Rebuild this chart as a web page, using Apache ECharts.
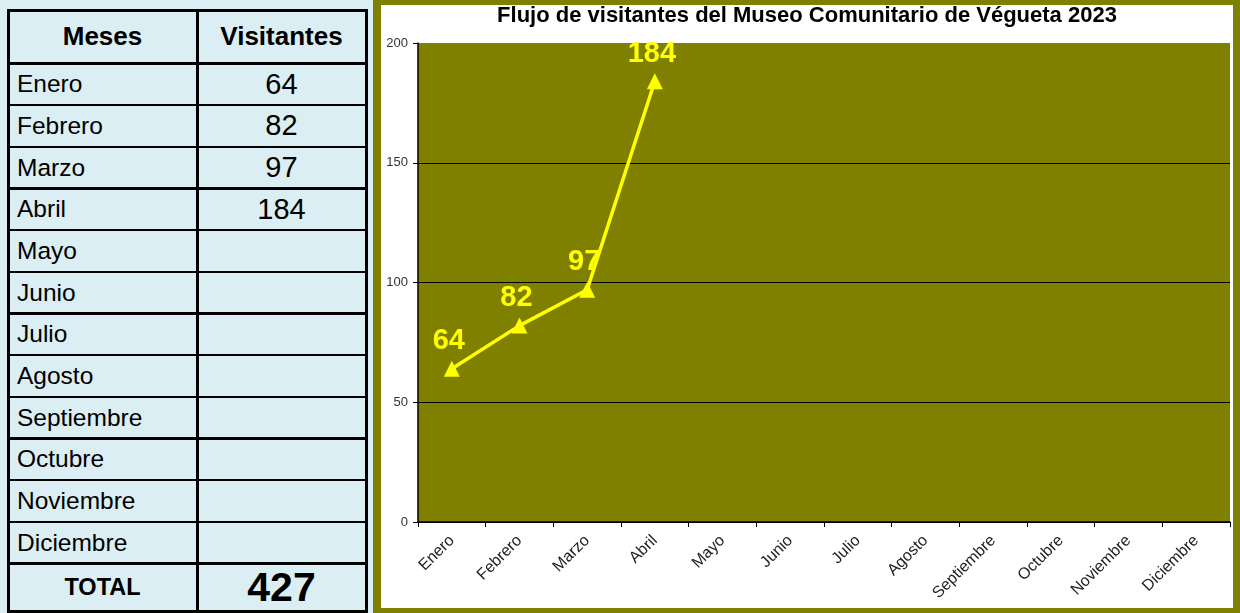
<!DOCTYPE html>
<html>
<head>
<meta charset="utf-8">
<title>Flujo de visitantes</title>
<script src="https://cdn.jsdelivr.net/npm/echarts@6/dist/echarts.min.js"></script>
<style>
  html, body { margin: 0; padding: 0; }
  body {
    width: 1240px; height: 613px; position: relative; overflow: hidden;
    background: #dbeef3;
    font-family: 'Liberation Sans', Arial, sans-serif;
  }
  #tabla { position: absolute; left: 0; top: 0; width: 373px; height: 613px; }
  .celda {
    position: absolute; display: flex; align-items: center;
    color: #000; box-sizing: border-box; white-space: nowrap;
  }
  .linea { position: absolute; background: #000; }
  #marco {
    position: absolute; left: 373px; top: 0; width: 867px; height: 613px;
    box-sizing: border-box; background: #fff;
    border-style: solid; border-color: #808000;
    border-width: 5px 7px 5px 8px;
  }
  #chart-container { width: 852px; height: 603px; }
</style>
</head>
<body>
<div id="tabla"></div>
<div id="marco"><div id="chart-container"></div></div>
<script>
// datos
const meses = ['Enero', 'Febrero', 'Marzo', 'Abril', 'Mayo', 'Junio', 'Julio',
  'Agosto', 'Septiembre', 'Octubre', 'Noviembre', 'Diciembre'];
const visitantes = [64, 82, 97, 184];
const titulo = 'Flujo de visitantes del Museo Comunitario de Végueta 2023';
const cabecera = ['Meses', 'Visitantes'];
const etiquetaTotal = 'TOTAL';

const total = visitantes.reduce(function (a, b) { return a + b; }, 0);

// tabla de la izquierda
const tabla = document.getElementById('tabla');
const xIzq = 8, xMed = 197, xDer = 366;
const yTop = 10, yCab = 63.5, altoFila = 500 / 12, yFin = 611.5;

function celda(texto, x0, x1, y0, y1, estilo, centrado) {
  const d = document.createElement('div');
  d.className = 'celda';
  d.style.left = x0 + 'px';
  d.style.width = (x1 - x0) + 'px';
  d.style.top = y0 + 'px';
  d.style.height = (y1 - y0) + 'px';
  d.style.justifyContent = centrado ? 'center' : 'flex-start';
  if (!centrado) d.style.paddingLeft = '9px';
  Object.assign(d.style, estilo);
  d.textContent = texto;
  tabla.appendChild(d);
}
function linea(x, y, w, h) {
  const d = document.createElement('div');
  d.className = 'linea';
  d.style.left = x + 'px'; d.style.top = y + 'px';
  d.style.width = w + 'px'; d.style.height = h + 'px';
  tabla.appendChild(d);
}

const estiloCab = { fontWeight: 'bold', fontSize: '26px' };
celda(cabecera[0], xIzq, xMed, yTop, yCab, estiloCab, true);
celda(cabecera[1], xMed, xDer, yTop, yCab, estiloCab, true);

const bordes = [yTop, yCab];
meses.forEach(function (m, i) {
  const y0 = yCab + i * altoFila, y1 = y0 + altoFila;
  celda(m, xIzq, xMed, y0, y1, { fontSize: '24.5px' }, false);
  const v = visitantes[i] !== undefined ? String(visitantes[i]) : '';
  celda(v, xMed, xDer, y0, y1, { fontSize: '29px' }, true);
  bordes.push(y1);
});
const yTot = yCab + meses.length * altoFila;
celda(etiquetaTotal, xIzq, xMed, yTot, yFin, { fontWeight: 'bold', fontSize: '23.5px' }, true);
celda(String(total), xMed, xDer, yTot, yFin, { fontWeight: 'bold', fontSize: '41px' }, true);
bordes.push(yFin);

bordes.forEach(function (y, i) {
  const grueso = (i === 0 || i === bordes.length - 1) ? 3 : 2.5;
  linea(xIzq, y - grueso / 2, xDer - xIzq + 1.5, grueso);
});
linea(xIzq - 1.5, yTop - 1.5, 3, yFin - yTop + 3);
linea(xMed - 1.5, yTop, 3, yFin - yTop);
linea(xDer - 1.5, yTop - 1.5, 3, yFin - yTop + 3);

// gráfico
var dom = document.getElementById('chart-container');
var myChart = echarts.init(dom, null, { renderer: 'canvas' });

var option = {
    animation: false,
    textStyle: { fontFamily: "'Liberation Sans', Arial, sans-serif" },
    title: {
        text: titulo,
        left: 'center',
        top: 0,
        padding: 0,
        textStyle: {
            fontSize: 22,
            fontWeight: 'bold',
            color: '#000'
        }
    },
    grid: {
        left: 37,
        right: 3,
        top: 38,
        bottom: 86,
        show: true,
        backgroundColor: '#808000',
        borderWidth: 0
    },
    xAxis: {
        type: 'category',
        data: meses,
        boundaryGap: true,
        axisLine: { lineStyle: { color: '#000', width: 1.5 } },
        axisTick: { show: true, length: 5, lineStyle: { color: '#000' } },
        axisLabel: {
            interval: 0,
            rotate: 45,
            fontSize: 16,
            color: '#222',
            margin: 16
        }
    },
    yAxis: {
        type: 'value',
        min: 0,
        max: 200,
        interval: 50,
        axisLine: { show: true, lineStyle: { color: '#000', width: 1.5 } },
        axisTick: { show: true, length: 5, lineStyle: { color: '#000' } },
        axisLabel: { fontSize: 13, color: '#333', margin: 10 },
        splitLine: {
            show: true,
            // la última (200) no lleva línea
            lineStyle: { color: ['#000', '#000', '#000', '#000', '#808000'], width: 1 }
        }
    },
    series: [
        {
            type: 'line',
            data: visitantes,
            symbol: 'triangle',
            symbolSize: 16,
            itemStyle: { color: '#ffff00' },
            lineStyle: { color: '#ffff00', width: 3.5 },
            label: {
                show: true,
                position: 'top',
                distance: 5,
                offset: [-3, 0],
                fontSize: 29,
                fontWeight: 'bold',
                color: '#ffff00'
            }
        }
    ]
};

myChart.setOption(option);
window.addEventListener('resize', myChart.resize);
</script>
</body>
</html>
